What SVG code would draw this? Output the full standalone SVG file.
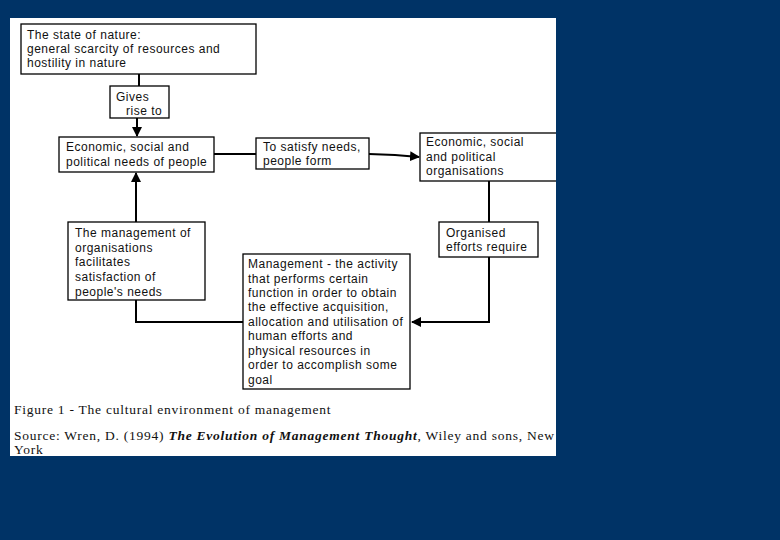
<svg xmlns="http://www.w3.org/2000/svg" width="780" height="540" viewBox="0 0 780 540">
<defs>
<style>
.box{fill:#fff;stroke:#000;stroke-width:1.3}
.t{font-family:"Liberation Sans",Arial,sans-serif;font-size:12px;letter-spacing:0.5px;fill:#111}
.cap{font-family:"Liberation Serif","Times New Roman",serif;font-size:13.5px;letter-spacing:0.75px;fill:#111}
.ln{fill:none;stroke:#000;stroke-width:2}
</style>
<marker id="ah" viewBox="0 0 10 10" refX="9" refY="5" markerWidth="5" markerHeight="5" orient="auto-start-reverse" markerUnits="strokeWidth">
<path d="M0,0 L10,5 L0,10 z" fill="#000"/>
</marker>
<clipPath id="pg"><rect x="10" y="18" width="546" height="438"/></clipPath>
</defs>
<rect width="780" height="540" fill="#003366"/>
<rect x="10" y="18" width="546" height="438" fill="#fff"/>
<g id="connectors">
<line class="ln" x1="139" y1="74" x2="139" y2="86"/>
<line class="ln" x1="137" y1="118" x2="137" y2="136" marker-end="url(#ah)"/>
<line class="ln" x1="214" y1="154" x2="256" y2="154"/>
<polyline class="ln" points="369,154 395,155 419,157" marker-end="url(#ah)"/>
<line class="ln" x1="489" y1="181" x2="489" y2="222"/>
<polyline class="ln" points="489,257 489,322 412,322" marker-end="url(#ah)"/>
<polyline class="ln" points="136,300 136,322 243,322"/>
<line class="ln" x1="136" y1="222" x2="136" y2="173" marker-end="url(#ah)"/>
</g>
<g id="nature">
<rect class="box" x="21" y="24" width="235" height="50"/>
<text class="t" x="27" y="39">The state of nature:</text>
<text class="t" x="27" y="53">general scarcity of resources and</text>
<text class="t" x="27" y="67">hostility in nature</text>
</g>
<g id="gives">
<rect class="box" x="110" y="86" width="59" height="32"/>
<text class="t" x="116" y="101">Gives</text>
<text class="t" x="126" y="115">rise to</text>
</g>
<g id="needs">
<rect class="box" x="59" y="137" width="155" height="35"/>
<text class="t" x="66" y="151">Economic, social and</text>
<text class="t" x="66" y="166">political needs of people</text>
</g>
<g id="form">
<rect class="box" x="256" y="138" width="113" height="31"/>
<text class="t" x="263" y="151">To satisfy needs,</text>
<text class="t" x="263" y="165">people form</text>
</g>
<g id="orgs" clip-path="url(#pg)">
<rect class="box" x="420" y="133" width="145" height="48"/>
<text class="t" x="426" y="146">Economic, social</text>
<text class="t" x="426" y="161">and political</text>
<text class="t" x="426" y="175">organisations</text>
</g>
<g id="organised">
<rect class="box" x="439" y="222" width="99" height="35"/>
<text class="t" x="446" y="237">Organised</text>
<text class="t" x="446" y="251">efforts require</text>
</g>
<g id="facilitates">
<rect class="box" x="68" y="222" width="137" height="78"/>
<text class="t" x="75" y="237">The management of</text>
<text class="t" x="75" y="252">organisations</text>
<text class="t" x="75" y="266">facilitates</text>
<text class="t" x="75" y="281">satisfaction of</text>
<text class="t" x="75" y="296">people's needs</text>
</g>
<g id="management">
<rect class="box" x="243" y="254" width="167" height="135"/>
<text class="t" x="248" y="268">Management - the activity</text>
<text class="t" x="248" y="283">that performs certain</text>
<text class="t" x="248" y="297">function in order to obtain</text>
<text class="t" x="248" y="311">the effective acquisition,</text>
<text class="t" x="248" y="326">allocation and utilisation of</text>
<text class="t" x="248" y="340">human efforts and</text>
<text class="t" x="248" y="355">physical resources in</text>
<text class="t" x="248" y="369">order to accomplish some</text>
<text class="t" x="248" y="384">goal</text>
</g>
<g id="caption" clip-path="url(#pg)">
<text class="cap" x="14" y="414">Figure 1 - The cultural environment of management</text>
<text class="cap" x="14" y="440">Source: Wren, D. (1994) <tspan font-weight="bold" font-style="italic">The Evolution of Management Thought</tspan>, Wiley and sons, New</text>
<text class="cap" x="14" y="454">York</text>
</g>
</svg>
